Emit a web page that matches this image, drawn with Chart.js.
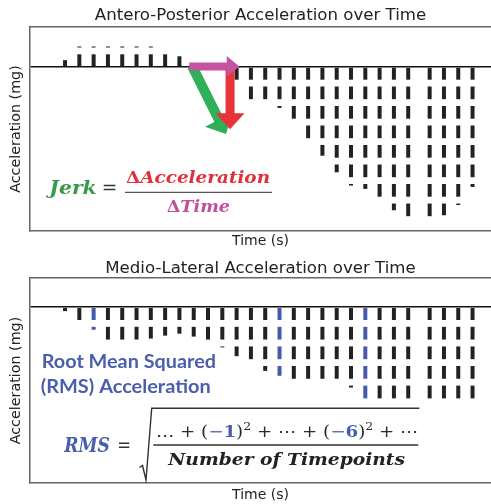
<!DOCTYPE html>
<html lang="en">
<head>
<meta charset="UTF-8">
<title>Acceleration over Time</title>
<style>
  html, body { margin: 0; padding: 0; background: #fff; }
  canvas { display: block; }
</style>
</head>
<body>
<canvas id="apChart" width="491" height="252"></canvas>
<canvas id="mlChart" width="491" height="252"></canvas>

<script src="https://cdn.jsdelivr.net/npm/chart.js@4.4.1/dist/chart.umd.min.js"></script>
<script>
// time slots (one bar each), the last four sit after a small gap
var timeSlots = [0, 1, 2, 3, 4, 5, 6, 7, 8, 9, 10, 11, 12, 13, 14, 15, 16, 17, 18, 19, 20, 21, 22, 23, 24, 25.5, 26.5, 27.5, 28.5];

// acceleration in dash units (1 dash = 1 unit)
var apAccel = [0.35, 1.05, 1.05, 1.05, 1.05, 1.05, 1.05, 0.8, 0.55, 0.12, null, null, -0.9,
    -1.75, -1.8, -2.1, -2.8, -3.8, -4.55, -5.4, -6.08, -6.25, -6.8, -7.35, -7.8, -7.8, -7.6, -7.08, -6.15];
var mlAccel = [-0.2, -0.8, -1.15, -1.8, -1.8, -1.8, -1.6, -1.45, -1.35, -1.5, -1.8, -2.05, -2.5,
    -2.8, -3.25, -3.5, -3.7, -3.8, -3.8, -3.8, -4.1, -4.8, -4.8, -4.8, -4.8, -4.8, -4.8, -4.8, -4.8];
var mlHighlight = [2, 15, 21];

var barDark = '#222222';
var barBlue = '#4659ad';
var serif = '"DejaVu Serif"';

Chart.defaults.font.family = '"DejaVu Sans"';
Chart.defaults.color = '#222';

function dashFill(chart, color, up) {
    var key = color + (up ? 'u' : 'd');
    chart.$dash = chart.$dash || {};
    if (!chart.$dash[key]) {
        var tile = document.createElement('canvas');
        tile.width = 4;
        tile.height = 20;
        var t = tile.getContext('2d');
        t.fillStyle = color;
        t.fillRect(0, up ? 7 : 0, 4, 13);
        chart.$dash[key] = chart.ctx.createPattern(tile, 'repeat');
    }
    var y = chart.scales.y;
    var zero = y.getPixelForValue(0);
    var unit = y.getPixelForValue(-1) - zero;
    if (!isFinite(unit) || !isFinite(zero)) return color;
    var p = chart.$dash[key];
    p.setTransform(new DOMMatrix([1, 0, 0, unit / 20, 0, zero]));
    return p;
}

function arrow(ctx, a, b, shaft, head, headLen, color) {
    var dx = b[0] - a[0], dy = b[1] - a[1], len = Math.hypot(dx, dy);
    ctx.save();
    ctx.translate(a[0], a[1]);
    ctx.rotate(Math.atan2(dy, dx));
    ctx.beginPath();
    ctx.moveTo(0, -shaft);
    ctx.lineTo(len - headLen, -shaft);
    ctx.lineTo(len - headLen, -head);
    ctx.lineTo(len, 0);
    ctx.lineTo(len - headLen, head);
    ctx.lineTo(len - headLen, shaft);
    ctx.lineTo(0, shaft);
    ctx.closePath();
    ctx.fillStyle = color;
    ctx.fill();
    ctx.restore();
}

// runs: [text, font, color, dy]; squeezed to the given width
function drawRuns(ctx, runs, x, y, width) {
    var total = 0;
    ctx.save();
    runs.forEach(function (r) {
        ctx.font = r[1];
        r.w = ctx.measureText(r[0]).width;
        total += r.w;
    });
    ctx.translate(x, y);
    ctx.scale(width / total, 1);
    ctx.textBaseline = 'alphabetic';
    ctx.textAlign = 'left';
    var cx = 0;
    runs.forEach(function (r) {
        ctx.font = r[1];
        ctx.fillStyle = r[2];
        ctx.fillText(r[0], cx, r[3] || 0);
        cx += r.w;
    });
    ctx.restore();
}

function hline(ctx, x1, x2, y, color, w) {
    ctx.save();
    ctx.strokeStyle = color;
    ctx.lineWidth = w;
    ctx.beginPath();
    ctx.moveTo(x1, y);
    ctx.lineTo(x2, y);
    ctx.stroke();
    ctx.restore();
}

function drawJerk(chart) {
    var ctx = chart.ctx, sx = chart.scales.x, sy = chart.scales.y;
    function pt(p) { return [sx.getPixelForValue(p[0]), sy.getPixelForValue(p[1])]; }

    arrow(ctx, pt([8.88, 0.05]), pt([11.26, -3.44]), 5, 15.5, 16, '#2faf58');
    arrow(ctx, pt([11.54, -0.05]), pt([11.54, -3.19]), 4.5, 14.5, 16, '#e8333a');
    arrow(ctx, pt([8.69, 0.03]), pt([12.19, 0.03]), 4, 10.5, 12.6, '#c652a0');

    var green = '#389a4a', red = '#e0303a', pink = '#c24f9c';
    drawRuns(ctx, [['Jerk', 'bold italic 18px ' + serif, green]], 49.3, 194, 47.4);
    drawRuns(ctx, [['=', '18px ' + serif, '#333']], 101.7, 194, 15.6);
    drawRuns(ctx, [['\u0394', 'bold 17px ' + serif, red], ['Acceleration', 'bold italic 17px ' + serif, red]], 126, 183.3, 144);
    hline(ctx, 125, 272, 192.3, '#555', 1.3);
    drawRuns(ctx, [['\u0394', 'bold 17px ' + serif, pink], ['Time', 'bold italic 17px ' + serif, pink]], 166.7, 212.3, 63.3);
}

function drawRms(chart) {
    var ctx = chart.ctx;
    var blue = '#4a5eae', dark = '#2a2a2a';
    drawRuns(ctx, [['Root Mean Squared', 'bold 18px Lato', blue]], 41.7, 116.3, 174.3);
    drawRuns(ctx, [['(RMS) Acceleration', 'bold 18px Lato', blue]], 40.7, 140.7, 170);

    drawRuns(ctx, [['RMS', 'bold italic 20px ' + serif, blue]], 64.3, 200.3, 45.7);
    drawRuns(ctx, [['=', '20px ' + serif, '#333']], 117.3, 200, 13.7);

    ctx.save();
    ctx.strokeStyle = '#333';
    ctx.lineWidth = 1.4;
    ctx.beginPath();
    ctx.moveTo(139.5, 215.5);
    ctx.lineTo(142.5, 213.5);
    ctx.lineTo(146, 228);
    ctx.lineTo(151.7, 156.3);
    ctx.lineTo(419.3, 156.3);
    ctx.stroke();
    ctx.restore();

    var reg = '16px ' + serif, bold = 'bold 16px ' + serif, sup = '11px ' + serif;
    drawRuns(ctx, [
        ['\u2026 + (', reg, dark], ['\u2212', reg, blue], ['1', bold, blue], [')', reg, dark], ['2', sup, dark, -7],
        [' + \u22ef + (', reg, dark], ['\u2212', reg, blue], ['6', bold, blue], [')', reg, dark], ['2', sup, dark, -7],
        [' + \u22ef', reg, dark]
    ], 156, 184.7, 262.3);
    hline(ctx, 153.3, 418.3, 193, '#333', 1.3);
    drawRuns(ctx, [['Number of Timepoints', 'bold italic 16px ' + serif, '#222']], 168.3, 213, 236.7);
}

function makeChart(id, title, values, yMin, yMax, topHeight, titlePad, xTitlePad, colorFor, notes) {
    var frame = { display: true, color: '#666', width: 1.5 };
    return new Chart(document.getElementById(id), {
        type: 'bar',
        data: {
            datasets: [{
                data: timeSlots.map(function (t, i) { return { x: t, y: values[i] }; }),
                barThickness: 4,
                inflateAmount: 0,
                borderWidth: 0,
                backgroundColor: function (c) {
                    var v = c.raw ? c.raw.y : 0;
                    return dashFill(c.chart, colorFor(c.dataIndex), v > 0);
                }
            }]
        },
        options: {
            responsive: false,
            animation: false,
            events: [],
            layout: { padding: 0 },
            plugins: { legend: { display: false }, tooltip: { enabled: false } },
            scales: {
                x: {
                    type: 'linear', position: 'bottom', min: -2.45, max: 29.79, offset: false,
                    grid: { display: false, drawTicks: false },
                    ticks: { display: false },
                    border: frame,
                    title: { display: true, text: 'Time (s)', font: { size: 14 }, padding: { top: 0, bottom: xTitlePad } },
                    afterFit: function (s) { s.height = 21; }
                },
                x2: {
                    type: 'linear', position: 'top', min: -2.45, max: 29.79, offset: false,
                    grid: { display: false, drawTicks: false },
                    ticks: { display: false },
                    border: frame,
                    title: { display: true, text: title, font: { size: 16.6 }, padding: { top: titlePad, bottom: 0 } },
                    afterFit: function (s) { s.height = topHeight; }
                },
                y: {
                    min: yMin, max: yMax,
                    afterBuildTicks: function (s) { s.ticks = [{ value: 0 }]; },
                    grid: { color: '#111', lineWidth: 1.5, drawTicks: false },
                    ticks: { display: false },
                    border: frame,
                    title: { display: true, text: 'Acceleration (mg)', font: { size: 14.3 }, padding: { top: 8, bottom: 0 } },
                    afterFit: function (s) { s.width = 30; }
                }
            }
        },
        plugins: [{ id: 'notes', afterDatasetsDraw: notes }]
    });
}

makeChart('apChart', 'Antero-Posterior Acceleration over Time', apAccel, -8.41, 2.05, 27, 5.5, 2,
    function () { return barDark; }, drawJerk);

makeChart('mlChart', 'Medio-Lateral Acceleration over Time', mlAccel, -8.97, 1.49, 26, 6.3, 0,
    function (i) { return mlHighlight.indexOf(i) >= 0 ? barBlue : barDark; }, drawRms);
</script>
</body>
</html>
